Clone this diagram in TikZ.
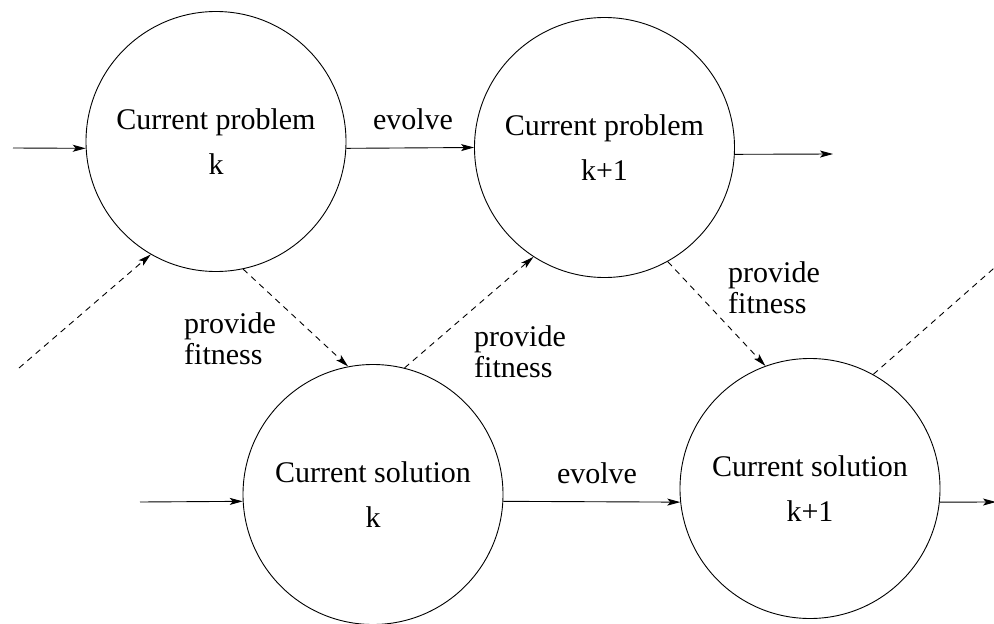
\documentclass[tikz,border=0pt]{standalone}
\usepackage{fontspec}
\setmainfont{Liberation Serif}
\usetikzlibrary{arrows.meta}
\begin{document}
\begin{tikzpicture}[x=1pt,y=-1pt,
  stnode/.style={circle,draw,line width=0.9pt,minimum size=260pt,inner sep=0pt,align=center,font=\fontsize{30}{45}\selectfont},
  lbl/.style={inner sep=0pt,font=\fontsize{30}{31}\selectfont,align=left,anchor=west},
  evlbl/.style={inner sep=0pt,font=\fontsize{30}{36}\selectfont},
  flow/.style={line width=0.9pt,-{Stealth[length=13pt,width=7pt,inset=3pt]}},
  plainflow/.style={line width=0.9pt},
  dflow/.style={flow,dash pattern=on 6pt off 5pt},
  dplain/.style={plainflow,dash pattern=on 6pt off 5pt}]
\useasboundingbox (0,0) rectangle (994,624);
\fill[white] (0,0) rectangle (994,624);

\node[stnode] (P1) at (216,141.5) {Current problem\\k};
\node[stnode] (P2) at (604.5,147.5) {Current problem\\k+1};
\node[stnode] (S1) at (373,494.5) {Current solution\\k};
\node[stnode] (S2) at (810,488.5) {Current solution\\k+1};

\coordinate (inP1) at (13,148);
\coordinate (outP2) at (833,154);
\coordinate (inS1) at (140,502);
\coordinate (outS2) at (996,502);
\coordinate (inD) at (19,368);
\coordinate (outD) at (1001,262);

% solid arrows
\draw[flow] (inP1) -- (P1.183);
\draw[flow] (P1.-3) -- (P2.west);
\draw[flow] (P2.-3) -- (outP2);
\draw[flow] (inS1) -- (S1.183);
\draw[flow] (S1.-3) -- (S2.186);
\draw[flow] (S2.-6) -- (outS2);

% dashed arrows
\draw[dflow] (inD) -- (P1.240);
\draw[dflow] (P1.-78) -- (S1.101);
\draw[dflow] (S1.76) -- (P2.237.6);
\draw[dflow] (P2.-61.4) -- (S2.110.3);
\draw[dplain] (S2.61.2) -- (outD);

% labels
\node[evlbl] (e1) at (413,119) {evolve};
\node[evlbl] (e2) at (597,473) {evolve};
\node[lbl] (f1) at (184,338.5) {provide\\fitness};
\node[lbl] (f2) at (474,352) {provide\\fitness};
\node[lbl] (f3) at (728,288) {provide\\fitness};
\end{tikzpicture}
\end{document}
